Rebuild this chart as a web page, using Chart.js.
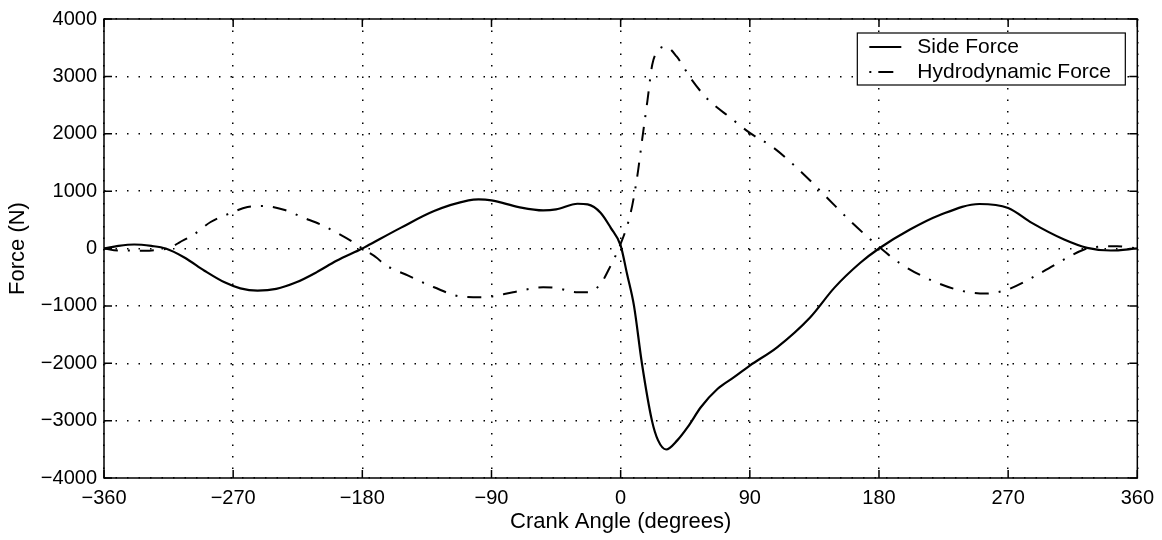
<!DOCTYPE html>
<html>
<head>
<meta charset="utf-8">
<script src="https://cdn.jsdelivr.net/npm/chart.js@4/dist/chart.umd.min.js"></script>
<style>
  html, body { margin: 0; padding: 0; background: #fff; }
  #wrap { width: 1162px; height: 540px; }
</style>
</head>
<body>
<div id="wrap"><canvas id="forceChart" width="1162" height="540"></canvas></div>
<script>
// crank angle (deg) vs force (N)
const sideAngle = [-360, -350, -339, -327, -317, -304, -290, -276, -265, -253, -240, -226, -212, -198, -180,
  -177, -153, -130, -106, -99, -90, -71, -54, -45, -30, -23, -14, -7, 0,
  4.5, 9.3, 14.8, 21.8, 26, 31.7, 39.6, 46.8, 56, 67.6, 79, 90, 109, 132, 149, 167, 180,
  201.6, 222, 250, 270, 286.5, 309, 325, 341.5, 360];
const sideForce = [0, 45, 70, 45, 0, -156, -387, -590, -694, -734, -705, -590, -416, -214, 0,
  40, 364, 653, 838, 855, 838, 722, 665, 682, 780, 769, 624, 364, 50,
  -450, -1000, -2000, -3000, -3340, -3503, -3340, -3110, -2763, -2445, -2243, -2040, -1722, -1202, -682, -249, 0,
  330, 579, 776, 706, 446, 156, 12, -35, 0];

const hydroAngle = [-360, -353, -346, -331, -320, -315, -307.6, -297, -285.7, -274, -260, -249, -234, -221, -209.5, -198, -186, -180,
  -170, -165, -148, -130, -111, -97, -90, -75, -54, -45, -30, -23, -14, -7, 0,
  7, 11.6, 15, 18.6, 22, 25.5, 31.3, 39, 48.7, 60.3, 76.6, 90, 106.7, 126, 144, 162.6, 180,
  194.7, 217.6, 238, 254, 270, 291, 309, 323, 333, 346, 360];
const hydroForce = [0, -30, -35, -40, -15, 0, 104, 250, 462, 595, 722, 740, 670, 537, 422, 277, 104, 0,
  -160, -270, -474, -676, -838, -850, -838, -763, -676, -688, -763, -763, -618, -300, 80,
  625, 1262, 1900, 2565, 3202, 3434, 3520, 3347, 2970, 2611, 2276, 2015, 1754, 1330, 880, 417, 30,
  -260, -567, -740, -786, -711, -450, -190, -17, 30, 40, 0];

const seriesNames = ['Side Force', 'Hydrodynamic Force'];
const xTicks = [-360, -270, -180, -90, 0, 90, 180, 270, 360];
const yTicks = [-4000, -3000, -2000, -1000, 0, 1000, 2000, 3000, 4000];

const toPts = (xs, ys) => xs.map((x, i) => ({ x: x, y: ys[i] }));
const fmt = v => (v < 0 ? '\u2212' + Math.abs(v) : String(v));

Chart.defaults.font.family = "'Liberation Sans', Arial, Helvetica, sans-serif";
Chart.defaults.font.size = 20;
Chart.defaults.color = '#000';

// box, inward ticks and the boxed legend, matlab style
const frame = {
  id: 'frame',
  afterDraw(chart) {
    const ctx = chart.ctx;
    const a = chart.chartArea;
    const xs = chart.scales.x, ys = chart.scales.y;
    const tl = 8;
    ctx.save();
    ctx.strokeStyle = '#000';
    ctx.lineWidth = 1.5;
    ctx.strokeRect(a.left, a.top, a.right - a.left, a.bottom - a.top);
    ctx.beginPath();
    xTicks.forEach(v => {
      const px = xs.getPixelForValue(v);
      ctx.moveTo(px, a.bottom); ctx.lineTo(px, a.bottom - tl);
      ctx.moveTo(px, a.top); ctx.lineTo(px, a.top + tl);
    });
    yTicks.forEach(v => {
      const py = ys.getPixelForValue(v);
      ctx.moveTo(a.left, py); ctx.lineTo(a.left + tl, py);
      ctx.moveTo(a.right, py); ctx.lineTo(a.right - tl, py);
    });
    ctx.stroke();

    // legend
    const bx = a.right - 280, by = a.top + 14, bw = 268, bh = 52;
    ctx.fillStyle = '#fff';
    ctx.fillRect(bx, by, bw, bh);
    ctx.lineWidth = 1.2;
    ctx.strokeRect(bx, by, bw, bh);
    ctx.font = "21px 'Liberation Sans', Arial, sans-serif";
    ctx.textBaseline = 'middle';
    chart.data.datasets.forEach((ds, i) => {
      const ly = by + 14 + i * 25;
      ctx.beginPath();
      ctx.setLineDash(i === 0 ? [] : [2, 7, 15, 30]);
      ctx.lineWidth = ds.borderWidth;
      ctx.moveTo(bx + 12, ly);
      ctx.lineTo(bx + 44, ly);
      ctx.stroke();
      ctx.setLineDash([]);
      ctx.fillStyle = '#000';
      ctx.fillText(ds.label, bx + 60, ly);
    });
    ctx.restore();
  }
};

new Chart(document.getElementById('forceChart').getContext('2d'), {
  type: 'line',
  data: {
    datasets: [
      {
        label: seriesNames[0],
        data: toPts(sideAngle, sideForce),
        borderColor: '#000',
        borderWidth: 2.2,
        pointRadius: 0,
        cubicInterpolationMode: 'monotone',
        fill: false
      },
      {
        label: seriesNames[1],
        data: toPts(hydroAngle, hydroForce),
        borderColor: '#000',
        borderWidth: 2,
        borderDash: [14, 10, 2, 10],
        pointRadius: 0,
        cubicInterpolationMode: 'monotone',
        fill: false
      }
    ]
  },
  options: {
    responsive: false,
    animation: false,
    layout: { padding: { left: 0, right: 23, top: 17, bottom: 0 } },
    plugins: { legend: { display: false }, tooltip: { enabled: false } },
    scales: {
      x: {
        type: 'linear',
        min: -360,
        max: 360,
        afterBuildTicks: s => { s.ticks = xTicks.map(v => ({ value: v })); },
        afterFit: s => { s.height = 62; },
        ticks: { callback: v => fmt(v), padding: 8, maxRotation: 0 },
        grid: { color: '#000', lineWidth: 1.5, drawTicks: false },
        border: { display: false, dash: [1.5, 10] },
        title: { display: true, text: 'Crank Angle (degrees)', font: { size: 22 }, padding: { top: 0, bottom: 5 } }
      },
      y: {
        min: -4000,
        max: 4000,
        afterBuildTicks: s => { s.ticks = yTicks.map(v => ({ value: v })); },
        afterFit: s => { s.width = 104; },
        ticks: { callback: v => fmt(v), padding: 7 },
        grid: { color: '#000', lineWidth: 1.5, drawTicks: false },
        border: { display: false, dash: [1.5, 10] },
        title: { display: true, text: 'Force (N)', font: { size: 22 }, padding: { top: 5, bottom: 0 } }
      }
    }
  },
  plugins: [frame]
});
</script>
</body>
</html>
